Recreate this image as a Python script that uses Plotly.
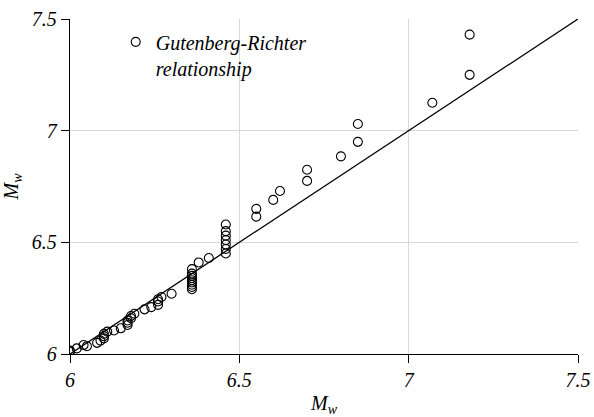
import plotly.graph_objects as go

# Observed magnitude pairs (x: M_w, y: M_w from Gutenberg-Richter relationship)
x_obs = [6.00, 6.00, 6.02, 6.04, 6.05, 6.08, 6.09, 6.10, 6.10, 6.10, 6.11, 6.13, 6.15,
         6.17, 6.17, 6.17, 6.18, 6.18, 6.19, 6.22, 6.24, 6.26, 6.26, 6.26, 6.27, 6.30,
         6.36, 6.36, 6.36, 6.36, 6.36, 6.36, 6.36, 6.36, 6.36,
         6.38, 6.41,
         6.46, 6.46, 6.46, 6.46, 6.46, 6.46, 6.46,
         6.55, 6.55, 6.60, 6.62, 6.70, 6.70, 6.80, 6.85, 6.85, 7.07, 7.18, 7.18]
y_obs = [6.010, 6.015, 6.025, 6.040, 6.035, 6.050, 6.060, 6.070, 6.080, 6.090, 6.100, 6.105, 6.115,
         6.130, 6.140, 6.150, 6.160, 6.170, 6.180, 6.200, 6.210, 6.220, 6.235, 6.245, 6.255, 6.270,
         6.290, 6.300, 6.310, 6.320, 6.330, 6.340, 6.350, 6.360, 6.380,
         6.410, 6.430,
         6.450, 6.470, 6.490, 6.510, 6.530, 6.550, 6.580,
         6.615, 6.650, 6.690, 6.730, 6.775, 6.825, 6.885, 6.950, 7.030, 7.125, 7.250, 7.430]

# 1:1 reference line
x_line = [6.0, 7.5]
y_line = [6.0, 7.5]

tick_vals = [6, 6.5, 7, 7.5]
tick_text = ["6", "6.5", "7", "7.5"]

series_name = "Gutenberg-Richter<br>relationship"
axis_title = "M<sub>w</sub>"

FONT = "Liberation Serif"
italic_ticks = ["<i>%s</i>" % t for t in tick_text]

fig = go.Figure()
fig.add_trace(go.Scatter(
    x=x_line, y=y_line, mode="lines",
    line=dict(color="black", width=1.3),
    showlegend=False, hoverinfo="skip"))
fig.add_trace(go.Scatter(
    x=x_obs, y=y_obs, mode="markers",
    name="<i>%s</i>" % series_name.replace("<br>", "</i><br><i>"),
    marker=dict(symbol="circle-open", size=9, color="black",
                line=dict(color="black", width=1.1))))

axis_common = dict(
    range=[6, 7.5], tickvals=tick_vals, ticktext=italic_ticks,
    showgrid=True, gridcolor="#d9d9d9", gridwidth=1,
    showline=True, linecolor="black", linewidth=1.4,
    ticks="outside", ticklen=8, tickcolor="black", tickwidth=1.3,
    tickfont=dict(family=FONT, size=20, color="black"),
    zeroline=False, fixedrange=True, automargin=False,
)

fig.update_layout(
    width=594, height=417,
    margin=dict(l=70, r=16, t=19, b=63),
    paper_bgcolor="white", plot_bgcolor="white",
    font=dict(family=FONT, size=20, color="black"),
    xaxis=dict(**axis_common,
               title=dict(text="<i>%s</i>" % axis_title, standoff=8,
                          font=dict(family=FONT, size=20, color="black"))),
    yaxis=dict(**axis_common,
               title=dict(text="<i>%s</i>" % axis_title, standoff=8,
                          font=dict(family=FONT, size=20, color="black"))),
    legend=dict(x=0.09, y=0.99, xanchor="left", yanchor="top",
                bgcolor="rgba(0,0,0,0)", borderwidth=0, valign="top",
                font=dict(family=FONT, size=20, color="black"),
                itemwidth=30),
)

fig.write_html("out.html")
